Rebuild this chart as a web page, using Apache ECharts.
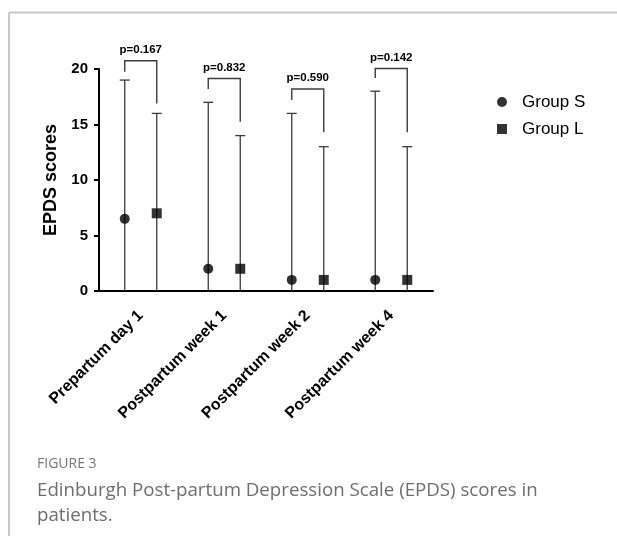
<!DOCTYPE html>
<html><head><meta charset="utf-8">
<script src="https://cdn.jsdelivr.net/npm/echarts@6/dist/echarts.min.js"></script>
<style>html,body{margin:0;padding:0;background:#fff}#c{width:617px;height:536px}</style>
</head><body><div id="c"></div>
<script>
const categories = ['Prepartum day 1', 'Postpartum week 1', 'Postpartum week 2', 'Postpartum week 4'];
const groupSMedian = [6.5, 2, 1, 1];
const groupSLow = [0, 0, 0, 0];
const groupSHigh = [19, 17, 16, 18];
const groupLMedian = [7, 2, 1, 1];
const groupLLow = [0, 0, 0, 0];
const groupLHigh = [16, 14, 13, 13];
const pValues = ['p=0.167', 'p=0.832', 'p=0.590', 'p=0.142'];
const bracketTop = [20.75, 19.15, 18.2, 20.05];
const bracketLeftEnd = [19.75, 18.2, 17.2, 19.2];
const bracketRightEnd = [16.9, 15.25, 14.3, 14.3];
const yTicks = [0, 5, 10, 15, 20];

const FONT = '"Liberation Sans", Arial, sans-serif';
const OFF = 16;
const LINE = '#3c3c3c';

const chart = echarts.init(document.getElementById('c'), null, {renderer: 'canvas'});

function errRender(offset) {
  return function (params, api) {
    const x = api.value(0), lo = api.value(1), hi = api.value(2);
    const pLo = api.coord([x, lo]);
    const pHi = api.coord([x, hi]);
    const cx = pLo[0] + offset;
    return {type: 'group', children: [
      {type: 'line', shape: {x1: cx, y1: pLo[1], x2: cx, y2: pHi[1]}, style: {stroke: LINE, lineWidth: 1.3}},
      {type: 'line', shape: {x1: cx - 5, y1: pHi[1], x2: cx + 5, y2: pHi[1]}, style: {stroke: LINE, lineWidth: 1.3}}
    ]};
  };
}

function bracketRender(params, api) {
  const x = api.value(0);
  const top = api.coord([x, api.value(1)]);
  const le = api.coord([x, api.value(2)]);
  const re = api.coord([x, api.value(3)]);
  const xl = top[0] - OFF, xr = top[0] + OFF;
  return {type: 'group', children: [
    {type: 'polyline', shape: {points: [[xl, le[1]], [xl, top[1]], [xr, top[1]], [xr, re[1]]]},
     style: {stroke: LINE, lineWidth: 1.4, fill: null}},
    {type: 'text', x: top[0], y: top[1] - 11,
     style: {text: pValues[params.dataIndex], fill: '#000', font: 'bold 11.5px ' + FONT, align: 'center', verticalAlign: 'middle'}}
  ]};
}

const option = {
  animation: false,
  grid: {left: 99, top: 69, width: 334, height: 222, containLabel: false},
  legend: {
    orient: 'vertical', left: 492, top: 88, itemWidth: 10, itemHeight: 10, itemGap: 9,
    textStyle: {fontFamily: FONT, fontSize: 17, color: '#000', padding: [0, 0, 0, 10], lineHeight: 18},
    data: [{name: 'Group S', icon: 'circle'}, {name: 'Group L', icon: 'rect'}]
  },
  xAxis: {
    type: 'category', data: categories, boundaryGap: true,
    axisLine: {lineStyle: {color: '#000', width: 2}},
    axisTick: {alignWithLabel: true, length: 6, lineStyle: {color: '#000', width: 2}},
    axisLabel: {rotate: 45, interval: 0, fontFamily: FONT, fontWeight: 'bold', fontSize: 16, color: '#000', margin: 22},
    splitLine: {show: false}
  },
  yAxis: {
    type: 'value', min: yTicks[0], max: yTicks[yTicks.length - 1], interval: 5,
    name: 'EPDS scores', nameLocation: 'middle', nameGap: 39,
    nameTextStyle: {fontFamily: FONT, fontWeight: 'bold', fontSize: 18, color: '#000'},
    axisLine: {show: true, lineStyle: {color: '#000', width: 2}},
    axisTick: {show: true, length: 5, lineStyle: {color: '#000', width: 2}},
    axisLabel: {fontFamily: FONT, fontWeight: 'bold', fontSize: 15, color: '#000', margin: 11},
    splitLine: {show: false}
  },
  series: [
    {type: 'custom', name: 'errS', renderItem: errRender(-OFF), data: groupSLow.map((v, i) => [i, v, groupSHigh[i]]), z: 2, silent: true},
    {type: 'custom', name: 'errL', renderItem: errRender(OFF), data: groupLLow.map((v, i) => [i, v, groupLHigh[i]]), z: 2, silent: true},
    {type: 'custom', name: 'brackets', renderItem: bracketRender, clip: false,
     data: bracketTop.map((v, i) => [i, v, bracketLeftEnd[i], bracketRightEnd[i]]), z: 2, silent: true},
    {type: 'scatter', name: 'Group S', symbol: 'circle', symbolSize: 10, symbolOffset: [-OFF, 0],
     itemStyle: {color: '#000'}, data: groupSMedian.map((v, i) => [i, v]), z: 5},
    {type: 'scatter', name: 'Group L', symbol: 'rect', symbolSize: 10, symbolOffset: [OFF, 0],
     itemStyle: {color: '#000'}, data: groupLMedian.map((v, i) => [i, v]), z: 5}
  ],
  graphic: [
    {type: 'line', shape: {x1: 9, y1: 12.5, x2: 617, y2: 12.5}, style: {stroke: '#c8c8c8', lineWidth: 2}},
    {type: 'line', shape: {x1: 9, y1: 12.5, x2: 9, y2: 536}, style: {stroke: '#c8c8c8', lineWidth: 2}},
    {type: 'text', left: 37, top: 457, style: {text: 'FIGURE 3', fill: '#777', font: '14px "Open Sans", sans-serif'}},
    {type: 'text', left: 37, top: 481, style: {text: 'Edinburgh Post-partum Depression Scale (EPDS) scores in', fill: '#6e6e6e', font: '18.7px "Open Sans", sans-serif'}},
    {type: 'text', left: 37, top: 506, style: {text: 'patients.', fill: '#6e6e6e', font: '18.7px "Open Sans", sans-serif'}}
  ]
};
chart.setOption(option);
</script>
</body></html>
